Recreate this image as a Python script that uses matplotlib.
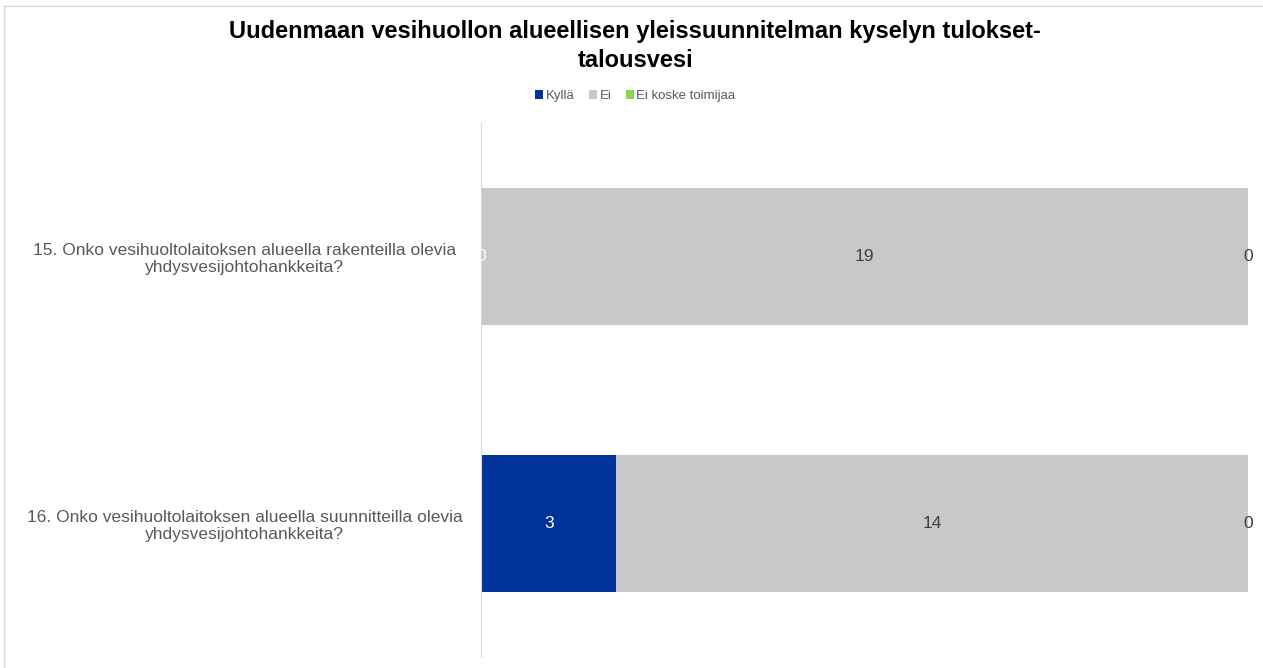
import numpy as np
import matplotlib.pyplot as plt
from matplotlib.patches import Rectangle

plt.rcParams['font.family'] = ['Liberation Sans', 'DejaVu Sans']

questions = ['15. Onko vesihuoltolaitoksen alueella rakenteilla olevia\nyhdysvesijohtohankkeita?',
             '16. Onko vesihuoltolaitoksen alueella suunnitteilla olevia\nyhdysvesijohtohankkeita?']
series = ['Kyllä', 'Ei', 'Ei koske toimijaa']
kylla = [0, 3]
ei = [19, 14]
ei_koske = [0, 0]
colors = ['#003399', '#C8C8CA', '#92D050']
label_colors = ['white', '#404040', '#404040']

data = np.array([kylla, ei, ei_koske], dtype=float)
totals = data.sum(axis=0)
pct = data / totals

fig = plt.figure(figsize=(12.63, 6.68), dpi=100)
# chart area border (only left and top edges are visible in the original)
fig.patches.append(Rectangle((4 / 1263, -0.1), 1.2, 1 - 6 / 668 + 0.1, transform=fig.transFigure,
                             fill=False, edgecolor='#D9D9D9', linewidth=1.0))
ax = fig.add_axes([481 / 1263, 11 / 668, 767 / 1263, 534 / 668])

y = np.arange(len(questions))
left = np.zeros(len(questions))
for i, name in enumerate(series):
    ax.barh(y, pct[i], left=left, height=0.513, color=colors[i], label=name)
    for j in range(len(questions)):
        ax.text(left[j] + pct[i][j] / 2, y[j], f'{int(data[i][j])}',
                ha='center', va='center', fontsize=12.5, color=label_colors[i])
    left += pct[i]

ax.set_ylim(1.5, -0.5)
ax.set_xlim(0, 1)
ax.set_yticks(y)
ax.set_yticklabels(questions, fontsize=12.5, color='#595959', ha='center', linespacing=1.2)
ax.tick_params(axis='y', length=0, pad=170)
ax.set_xticks([])
for s in ['top', 'right', 'bottom']:
    ax.spines[s].set_visible(False)
ax.spines['left'].set_color('#D9D9D9')

fig.text(0.503, 1 - 46 / 668, 'Uudenmaan vesihuollon alueellisen yleissuunnitelman kyselyn tulokset-\ntalousvesi',
         ha='center', va='center', fontsize=17, fontweight='bold', color='black', linespacing=1.35)
fig.legend(loc='center', bbox_to_anchor=(0.503, 1 - 96 / 668), ncol=3, frameon=False, fontsize=9.5,
           handlelength=0.6, handleheight=0.6, handletextpad=0.2, columnspacing=1.1, labelcolor='#595959')

fig.savefig('out.png', dpi=100)
